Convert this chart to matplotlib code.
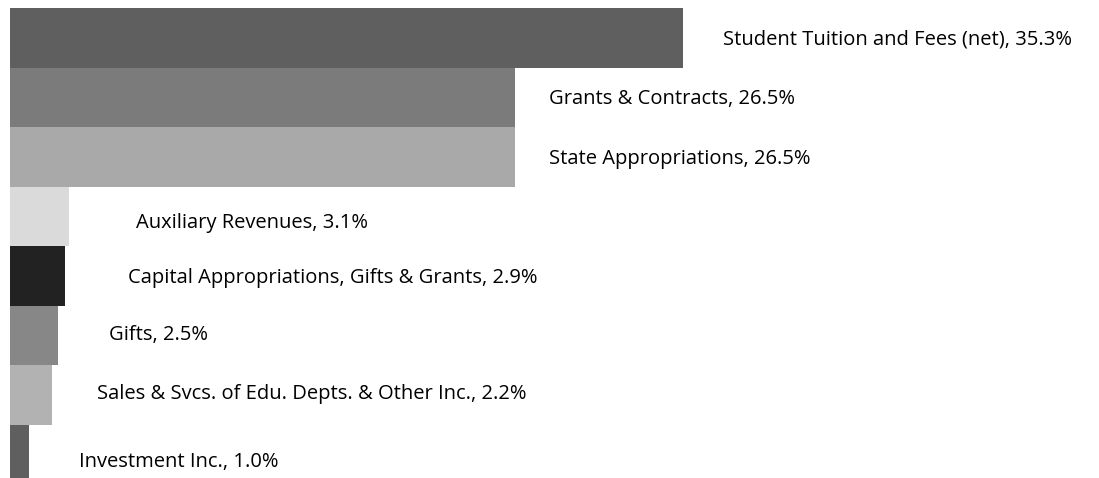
import matplotlib.pyplot as plt

plt.rcParams['font.family'] = ['Open Sans', 'DejaVu Sans']

sources = ['Student Tuition and Fees (net)', 'Grants & Contracts', 'State Appropriations',
           'Auxiliary Revenues', 'Capital Appropriations, Gifts & Grants', 'Gifts',
           'Sales & Svcs. of Edu. Depts. & Other Inc.', 'Investment Inc.']
shares = [35.3, 26.5, 26.5, 3.1, 2.9, 2.5, 2.2, 1.0]

colors = ['#5f5f5f', '#7b7b7b', '#a9a9a9', '#dadada', '#222222', '#878787', '#b2b2b2', '#5f5f5f']
# label offsets from the bar end, pixels (dx right, dy down) - excel put them a bit unevenly
label_dx = [40, 34, 34, 67, 63, 51, 45, 50]
label_dy = [2, 2, 2, 7, 2, 0, -1, 8]

fig = plt.figure(figsize=(10.99, 4.78), dpi=100)
ax = fig.add_axes([10 / 1099, 0, 1 - 10 / 1099, 1 - 8 / 478])

pos = list(range(len(sources)))
ax.barh(pos, shares, height=1.0, color=colors, edgecolor='none')

for i, (name, val) in enumerate(zip(sources, shares)):
    ax.annotate('%s, %.1f%%' % (name, val), xy=(val, i),
                xytext=(label_dx[i] * 0.72, -label_dy[i] * 0.72), textcoords='offset points',
                ha='left', va='center', fontsize=14.5, color='#000000')

ax.set_xlim(0, (1099 - 10) / 19.07)
ax.set_ylim(-0.5 + (478 - 8) / 59.5, -0.5)
ax.axis('off')

fig.savefig('out.png', dpi=100)
